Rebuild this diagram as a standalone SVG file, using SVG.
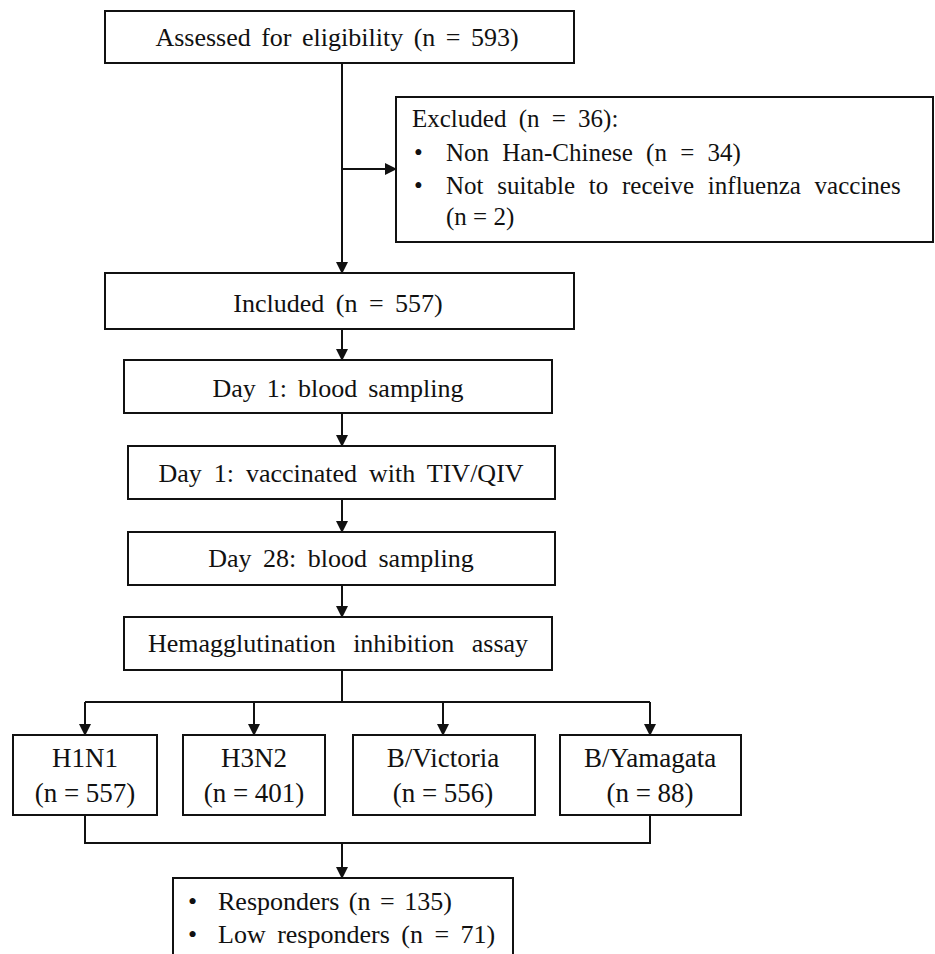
<svg xmlns="http://www.w3.org/2000/svg" width="935" height="954" viewBox="0 0 935 954">
<style>
.box{fill:#fff;stroke:#111;stroke-width:2}
.t{font-family:"Liberation Serif","Times New Roman",serif;font-size:26px;fill:#111}
.s{font-size:25px}
.b{font-size:27px}
.c{text-anchor:middle}
.ln{fill:none;stroke:#111;stroke-width:2}
</style>
<defs>
<marker id="ah" markerWidth="12" markerHeight="12" refX="11" refY="6" orient="auto" markerUnits="userSpaceOnUse">
<path d="M0,0 L12,6 L0,12 Z" fill="#111"/>
</marker>
</defs>
<rect width="935" height="954" fill="#fff"/>
<g id="connectors">
<path class="ln" d="M342,63 V273" marker-end="url(#ah)"/>
<path class="ln" d="M342,169 H396" marker-end="url(#ah)"/>
<path class="ln" d="M342,329 V360" marker-end="url(#ah)"/>
<path class="ln" d="M342,413 V446" marker-end="url(#ah)"/>
<path class="ln" d="M342,499 V532" marker-end="url(#ah)"/>
<path class="ln" d="M342,585 V617" marker-end="url(#ah)"/>
<path class="ln" d="M342,670 V702 M85,702 H650"/>
<path class="ln" d="M85,702 V735" marker-end="url(#ah)"/>
<path class="ln" d="M254,702 V735" marker-end="url(#ah)"/>
<path class="ln" d="M443,702 V735" marker-end="url(#ah)"/>
<path class="ln" d="M650,702 V735" marker-end="url(#ah)"/>
<path class="ln" d="M85,815 V843 H650 V815"/>
<path class="ln" d="M342,843 V878" marker-end="url(#ah)"/>
</g>
<g id="assessed">
<rect class="box" x="105" y="11" width="469" height="52"/>
<text class="t c" x="337" y="46" word-spacing="4">Assessed for eligibility  (n = 593)</text>
</g>
<g id="excluded">
<rect class="box" x="396" y="97" width="537" height="145"/>
<text class="t s" x="412" y="127" word-spacing="6">Excluded  (n = 36):</text>
<text class="t s" x="414" y="161">•</text>
<text class="t s" x="446" y="161" word-spacing="7">Non Han-Chinese  (n = 34)</text>
<text class="t s" x="414" y="194">•</text>
<text class="t s" x="446" y="194" word-spacing="7.5">Not suitable  to receive  influenza  vaccines</text>
<text class="t s" x="446" y="225">(n = 2)</text>
</g>
<g id="included">
<rect class="box" x="105" y="273" width="469" height="56"/>
<text class="t c" x="338" y="312" word-spacing="5">Included  (n = 557)</text>
</g>
<g id="day1blood">
<rect class="box" x="124" y="360" width="428" height="53"/>
<text class="t c" x="338" y="397" word-spacing="4.5">Day  1: blood  sampling</text>
</g>
<g id="day1vacc">
<rect class="box" x="128" y="446" width="427" height="53"/>
<text class="t c" x="341" y="482" word-spacing="5.5">Day  1: vaccinated  with  TIV/QIV</text>
</g>
<g id="day28">
<rect class="box" x="128" y="532" width="427" height="53"/>
<text class="t c" x="341" y="567" word-spacing="5">Day  28: blood  sampling</text>
</g>
<g id="hai">
<rect class="box" x="124" y="617" width="428" height="53"/>
<text class="t c" x="338" y="652" word-spacing="11">Hemagglutination  inhibition  assay</text>
</g>
<g id="h1n1">
<rect class="box" x="13" y="735" width="144" height="80"/>
<text class="t b c" x="85" y="767">H1N1</text>
<text class="t b c" x="85" y="802">(n = 557)</text>
</g>
<g id="h3n2">
<rect class="box" x="183" y="735" width="142" height="80"/>
<text class="t b c" x="254" y="767">H3N2</text>
<text class="t b c" x="254" y="802">(n = 401)</text>
</g>
<g id="bvictoria">
<rect class="box" x="353" y="735" width="182" height="80"/>
<text class="t b c" x="443" y="767">B/Victoria</text>
<text class="t b c" x="443" y="802">(n = 556)</text>
</g>
<g id="byamagata">
<rect class="box" x="560" y="735" width="181" height="80"/>
<text class="t b c" x="650" y="767">B/Yamagata</text>
<text class="t b c" x="650" y="802">(n = 88)</text>
</g>
<g id="responders">
<rect class="box" x="173" y="878" width="340" height="90"/>
<text class="t" x="188" y="910">•</text>
<text class="t" x="218" y="910" word-spacing="3">Responders  (n = 135)</text>
<text class="t" x="188" y="943">•</text>
<text class="t" x="218" y="943" word-spacing="5">Low responders (n = 71)</text>
</g>
</svg>
